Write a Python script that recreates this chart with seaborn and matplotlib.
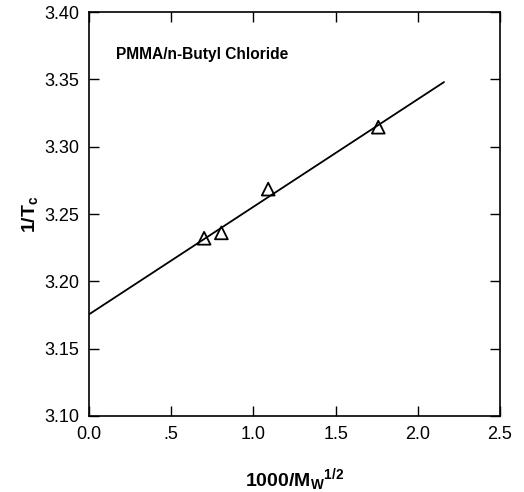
import matplotlib
matplotlib.use("Agg")
import matplotlib.pyplot as plt
import seaborn as sns
import pandas as pd

# data
x_points = [0.70, 0.805, 1.09, 1.76]
y_points = [3.232, 3.236, 3.2685, 3.3145]
fit_x = [0.0, 2.16]
fit_y = [3.1755, 3.348]
x_ticks = [0.0, 0.5, 1.0, 1.5, 2.0, 2.5]
x_tick_labels = ["0.0", ".5", "1.0", "1.5", "2.0", "2.5"]
y_ticks = [3.10, 3.15, 3.20, 3.25, 3.30, 3.35, 3.40]
y_tick_labels = ["3.10", "3.15", "3.20", "3.25", "3.30", "3.35", "3.40"]

sns.set_theme(style="ticks")
plt.rcParams['font.family'] = ['Liberation Sans', 'DejaVu Sans']
plt.rcParams['text.color'] = 'black'
plt.rcParams['axes.labelcolor'] = 'black'
plt.rcParams['mathtext.fontset'] = 'custom'
plt.rcParams['mathtext.rm'] = 'Liberation Sans:bold'
plt.rcParams['mathtext.it'] = 'Liberation Sans:bold'
plt.rcParams['mathtext.bf'] = 'Liberation Sans:bold'

fig = plt.figure(figsize=(5.24, 4.92), dpi=100)
ax = fig.add_axes([0.170, 0.1545, 0.784, 0.821])

pts = pd.DataFrame({"x": x_points, "y": y_points})
fit = pd.DataFrame({"x": fit_x, "y": fit_y})

sns.lineplot(data=fit, x="x", y="y", ax=ax, color="black", linewidth=1.3)
sns.scatterplot(data=pts, x="x", y="y", ax=ax, marker="^", s=85,
                facecolor="none", edgecolor="black", linewidth=1.3, zorder=3)

ax.set_xlim(0, 2.5)
ax.set_ylim(3.10, 3.40)
ax.set_xticks(x_ticks)
ax.set_xticklabels(x_tick_labels)
ax.set_yticks(y_ticks)
ax.set_yticklabels(y_tick_labels)
ax.tick_params(direction="in", top=True, right=True, length=7, width=1,
               labelsize=13, pad=7, colors="black")
for s in ax.spines.values():
    s.set_linewidth(1.2)
    s.set_color("black")

ax.set_xlabel(r"1000/M$_{\mathrm{W}}$$^{\mathrm{1/2}}$", fontsize=14, fontweight="bold", labelpad=17)
ax.set_ylabel(r"1/T$_{\mathrm{c}}$", fontsize=14, fontweight="bold", labelpad=3)

ax.text(0.065, 0.895, "PMMA/n-Butyl Chloride", transform=ax.transAxes,
        fontsize=11.2, fontweight="bold", ha="left", va="center", color="black")

fig.savefig("out.png", dpi=100)
